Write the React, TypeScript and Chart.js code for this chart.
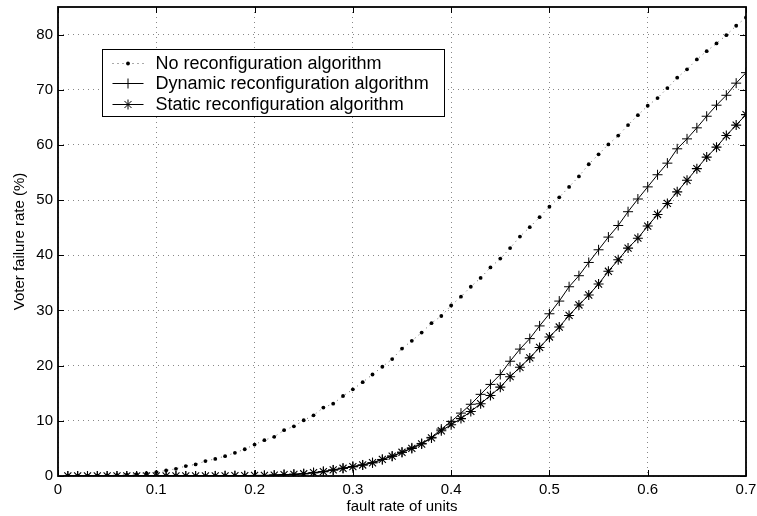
import React, { useEffect, useRef } from "react";
import { Chart, registerables } from "chart.js";

Chart.register(...registerables);

const faultRate = [
  0.01, 0.02, 0.03, 0.04, 0.05, 0.06, 0.07, 0.08, 0.09, 0.1,
  0.11, 0.12, 0.13, 0.14, 0.15, 0.16, 0.17, 0.18, 0.19, 0.2,
  0.21, 0.22, 0.23, 0.24, 0.25, 0.26, 0.27, 0.28, 0.29, 0.3,
  0.31, 0.32, 0.33, 0.34, 0.35, 0.36, 0.37, 0.38, 0.39, 0.4,
  0.41, 0.42, 0.43, 0.44, 0.45, 0.46, 0.47, 0.48, 0.49, 0.5,
  0.51, 0.52, 0.53, 0.54, 0.55, 0.56, 0.57, 0.58, 0.59, 0.6,
  0.61, 0.62, 0.63, 0.64, 0.65, 0.66, 0.67, 0.68, 0.69, 0.7,
];

const noReconfig = [
  0.0, 0.0, 0.0, 0.05, 0.1, 0.15, 0.25, 0.35, 0.5, 0.7,
  1.0, 1.3, 1.8, 2.1, 2.7, 3.1, 3.6, 4.2, 4.85, 5.7,
  6.5, 7.1, 8.3, 9.0, 10.1, 11.0, 12.4, 13.1, 14.5, 15.7,
  17.0, 18.4, 19.8, 21.2, 23.1, 24.5, 26.0, 27.7, 29.0, 30.9,
  32.5, 34.3, 35.9, 37.8, 39.4, 41.3, 43.4, 45.1, 46.9, 48.8,
  50.5, 52.4, 54.3, 56.5, 58.3, 60.1, 61.7, 63.6, 65.4, 67.1,
  68.5, 70.3, 72.2, 73.7, 75.5, 77.0, 78.4, 79.9, 81.6, 83.1,
];

const dynamicReconfig = [
  0, 0, 0, 0, 0, 0, 0, 0, 0, 0,
  0, 0, 0, 0, 0, 0.02, 0.03, 0.05, 0.05, 0.1,
  0.1, 0.15, 0.25, 0.3, 0.4, 0.6, 0.8, 1.1, 1.4, 1.7,
  2.0, 2.4, 3.0, 3.6, 4.3, 5.1, 5.9, 7.0, 8.5, 9.9,
  11.4, 13.0, 14.8, 16.6, 18.4, 20.8, 23.0, 24.9, 27.2, 29.4,
  31.7, 34.3, 36.3, 38.7, 41.0, 43.3, 45.4, 47.9, 50.2, 52.4,
  54.6, 56.7, 59.3, 61.1, 63.1, 65.2, 67.2, 69.0, 71.2, 73.1,
];

const staticReconfig = [
  0, 0, 0, 0, 0, 0, 0, 0, 0, 0,
  0, 0, 0, 0, 0, 0.02, 0.03, 0.05, 0.05, 0.1,
  0.1, 0.15, 0.25, 0.3, 0.4, 0.6, 0.8, 1.1, 1.4, 1.7,
  2.0, 2.4, 3.0, 3.6, 4.3, 5.0, 5.8, 6.9, 8.2, 9.3,
  10.4, 11.7, 13.1, 14.6, 16.1, 18.0, 19.7, 21.4, 23.3, 25.2,
  27.0, 29.1, 31.0, 32.8, 34.8, 37.1, 39.2, 41.3, 43.1, 45.3,
  47.4, 49.4, 51.5, 53.6, 55.7, 57.8, 59.6, 61.7, 63.6, 65.5,
];

const seriesLabels = [
  "No reconfiguration algorithm",
  "Dynamic reconfiguration algorithm",
  "Static reconfiguration algorithm",
];

const xTicks = [0, 0.1, 0.2, 0.3, 0.4, 0.5, 0.6, 0.7];
const xTickLabels = ["0", "0.1", "0.2", "0.3", "0.4", "0.5", "0.6", "0.7"];
const yTicks = [0, 10, 20, 30, 40, 50, 60, 70, 80];
const yTickLabels = ["0", "10", "20", "30", "40", "50", "60", "70", "80"];
const xTitle = "fault rate of units";
const yTitle = "Voter failure rate (%)";

const FONT = '"Liberation Sans", Arial, Helvetica, sans-serif';

function drawMarker(ctx: CanvasRenderingContext2D, style: string, x: number, y: number, r: number) {
  ctx.beginPath();
  if (style === "circle") {
    ctx.arc(x, y, r, 0, Math.PI * 2);
    ctx.fill();
    return;
  }
  ctx.moveTo(x - r, y);
  ctx.lineTo(x + r, y);
  ctx.moveTo(x, y - r);
  ctx.lineTo(x, y + r);
  if (style === "star") {
    const d = r * Math.SQRT1_2;
    ctx.moveTo(x - d, y - d);
    ctx.lineTo(x + d, y + d);
    ctx.moveTo(x - d, y + d);
    ctx.lineTo(x + d, y - d);
  }
  ctx.stroke();
}

const framePlugin = {
  id: "matlabFrame",
  afterDatasetsDraw(chart: any) {
    const { ctx, chartArea, scales } = chart;
    const { left, right, top, bottom } = chartArea;
    const xs = scales.x;
    const ys = scales.y;
    ctx.save();
    ctx.strokeStyle = "#000";
    ctx.fillStyle = "#000";
    ctx.lineWidth = 1;
    ctx.setLineDash([]);
    const tl = 6;
    ctx.beginPath();
    xTicks.forEach((v) => {
      const px = Math.round(xs.getPixelForValue(v)) + 0.5;
      ctx.moveTo(px, bottom);
      ctx.lineTo(px, bottom - tl);
      ctx.moveTo(px, top);
      ctx.lineTo(px, top + tl);
    });
    yTicks.forEach((v) => {
      const py = Math.round(ys.getPixelForValue(v)) + 0.5;
      ctx.moveTo(left, py);
      ctx.lineTo(left + tl, py);
      ctx.moveTo(right, py);
      ctx.lineTo(right - tl, py);
    });
    ctx.stroke();
    ctx.lineWidth = 1.8;
    ctx.strokeRect(left, top, right - left, bottom - top);

    // legend box
    const bx = left + 44.5;
    const by = top + 42.5;
    const bw = 342;
    const bh = 67;
    ctx.fillStyle = "#fff";
    ctx.fillRect(bx, by, bw, bh);
    ctx.lineWidth = 1;
    ctx.strokeStyle = "#000";
    ctx.strokeRect(bx, by, bw, bh);
    const rows = [13, 33.5, 54];
    const styles = ["circle", "cross", "star"];
    ctx.font = `18px ${FONT}`;
    ctx.textBaseline = "middle";
    ctx.textAlign = "left";
    rows.forEach((ry, i) => {
      const yy = Math.round(by + ry) + 0.5;
      const x0 = bx + 10;
      const x1 = bx + 41;
      ctx.strokeStyle = i === 0 ? "#555" : "#000";
      ctx.lineWidth = 1;
      ctx.setLineDash(i === 0 ? [1, 4] : []);
      ctx.beginPath();
      ctx.moveTo(x0, yy);
      ctx.lineTo(x1, yy);
      ctx.stroke();
      ctx.setLineDash([]);
      ctx.strokeStyle = "#000";
      ctx.fillStyle = "#000";
      drawMarker(ctx, styles[i], (x0 + x1) / 2, yy, i === 0 ? 1.9 : 5);
      ctx.fillStyle = "#000";
      ctx.fillText(seriesLabels[i], bx + 53, yy + 1);
    });
    ctx.restore();
  },
};

export default function App() {
  const canvasRef = useRef<HTMLCanvasElement | null>(null);

  useEffect(() => {
    if (!canvasRef.current) return;
    const toPoints = (vals: number[]) => faultRate.map((x, i) => ({ x, y: vals[i] }));
    const chart = new Chart(canvasRef.current, {
      type: "line",
      data: {
        datasets: [
          {
            label: seriesLabels[0],
            data: toPoints(noReconfig),
            borderColor: "#666",
            borderWidth: 1,
            borderDash: [1, 4],
            pointStyle: "circle",
            pointRadius: 1.9,
            pointBackgroundColor: "#000",
            pointBorderColor: "#000",
            pointBorderWidth: 0,
            tension: 0,
          },
          {
            label: seriesLabels[1],
            data: toPoints(dynamicReconfig),
            borderColor: "#000",
            borderWidth: 1,
            pointStyle: "cross",
            pointRadius: 5,
            pointBorderColor: "#000",
            pointBackgroundColor: "#000",
            pointBorderWidth: 1,
            tension: 0,
          },
          {
            label: seriesLabels[2],
            data: toPoints(staticReconfig),
            borderColor: "#000",
            borderWidth: 1,
            pointStyle: "star",
            pointRadius: 5,
            pointBorderColor: "#000",
            pointBackgroundColor: "#000",
            pointBorderWidth: 1.1,
            tension: 0,
          },
        ],
      },
      options: {
        animation: false,
        responsive: false,
        events: [],
        layout: { padding: { top: 7, right: 11, left: 0, bottom: 0 } },
        plugins: {
          legend: { display: false },
          tooltip: { enabled: false },
        },
        scales: {
          x: {
            type: "linear",
            min: 0,
            max: 0.7,
            afterBuildTicks: (scale: any) => {
              scale.ticks = xTicks.map((v) => ({ value: v }));
            },
            afterFit: (scale: any) => {
              scale.height = 40;
              scale.paddingLeft = 0;
              scale.paddingRight = 0;
            },
            grid: { color: "#888", lineWidth: 1, drawTicks: false },
            border: { display: false, dash: [1, 4] },
            ticks: {
              padding: 5,
              color: "#000",
              font: { family: FONT, size: 15 },
              maxRotation: 0,
              autoSkip: false,
              callback: (_v: any, i: number) => xTickLabels[i],
            },
            title: {
              display: true,
              text: xTitle,
              color: "#000",
              font: { family: FONT, size: 15 },
              padding: { top: 0, bottom: 0 },
            },
          },
          y: {
            type: "linear",
            min: 0,
            max: 85,
            afterBuildTicks: (scale: any) => {
              scale.ticks = yTicks.map((v) => ({ value: v }));
            },
            afterFit: (scale: any) => {
              scale.width = 58;
              scale.paddingTop = 0;
              scale.paddingBottom = 0;
            },
            grid: { color: "#888", lineWidth: 1, drawTicks: false },
            border: { display: false, dash: [1, 4] },
            ticks: {
              padding: 5,
              color: "#000",
              font: { family: FONT, size: 15 },
              autoSkip: false,
              callback: (_v: any, i: number) => yTickLabels[i],
            },
            title: {
              display: true,
              text: yTitle,
              color: "#000",
              font: { family: FONT, size: 15 },
              padding: { top: 11, bottom: 0 },
            },
          },
        },
      },
      plugins: [framePlugin],
    } as any);
    return () => chart.destroy();
  }, []);

  return (
    <div style={{ position: "fixed", left: 0, top: 0, width: 757, height: 516, background: "#fff" }}>
      <canvas ref={canvasRef} width={757} height={516} style={{ display: "block" }} />
    </div>
  );
}
